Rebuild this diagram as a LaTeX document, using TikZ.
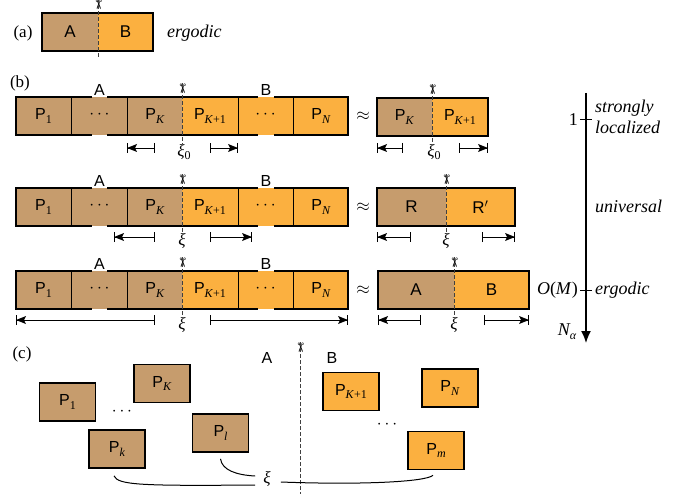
\documentclass[tikz,border=0pt]{standalone}
\usepackage{fontspec}
\setmainfont{Liberation Serif}
\newfontfamily\sansf{Liberation Sans}
\newfontfamily\symf{DejaVu Sans}
\usetikzlibrary{arrows.meta,calc}
\definecolor{tanc}{HTML}{C69C6D}
\definecolor{orng}{HTML}{FBB040}
\newcommand\psub[1]{\raisebox{-0.45ex}{\rmfamily\fontsize{12}{12}\selectfont #1}}
% measurement arrows: \measL{x1}{x2}{y} arrowhead at x1; \measR arrowhead at x2
\newcommand\measL[3]{%
  \draw[meas,{Bar[width=10pt]}-{Bar[width=10pt]}] (#1,#3) -- (#2,#3);
  \fill (#1,#3) -- (#1+10,#3-4) -- (#1+8,#3) -- (#1+10,#3+4) -- cycle;}
\newcommand\measR[3]{%
  \draw[meas,{Bar[width=10pt]}-{Bar[width=10pt]}] (#1,#3) -- (#2,#3);
  \fill (#2,#3) -- (#2-10,#3-4) -- (#2-8,#3) -- (#2-10,#3+4) -- cycle;}
\begin{document}
\begin{tikzpicture}[x=1pt,y=-1pt,
  lab/.style={font=\sansf\fontsize{16}{16}\selectfont, inner sep=0},
  big/.style={font=\sansf\fontsize{17}{17}\selectfont, inner sep=0},
  scis/.style={font=\symf\fontsize{13}{13}\selectfont, rotate=-90, inner sep=0},
  cut/.style={line width=0.8pt, dash pattern=on 3.5pt off 2.5pt, black!75},
  boxline/.style={line width=1.7pt},
  thin/.style={line width=0.7pt},
  meas/.style={line width=0.9pt},
  xil/.style={font=\itshape\fontsize{17}{17}\selectfont, inner sep=0},
  txt/.style={font=\itshape\fontsize{18}{21}\selectfont, inner sep=0},
  pbox/.style={draw, line width=1.7pt, minimum width=56pt, minimum height=38pt, inner sep=0, font=\sansf\fontsize{16}{16}\selectfont},
  tb/.style={pbox, fill=tanc},
  ob/.style={pbox, fill=orng}]
\useasboundingbox (0,0) rectangle (695,494);

% ---------- (a)
\node[font=\fontsize{17}{17}\selectfont] (la) at (23,33) {(a)};
\fill[tanc] (42,13) rectangle (98,51);
\fill[orng] (98,13) rectangle (153,51);
\draw[boxline] (42,13) rectangle (153,51);
\node[big] (aA) at (70,32) {A};
\node[big] (aB) at (125.5,32) {B};
\node[scis] (sa) at (98,5) {✂};
\draw[cut] (sa.west) -- (98,58);
\node[txt, anchor=west] (erga) at (167,33) {ergodic};

% ---------- (b)
\node[font=\fontsize{17}{17}\selectfont] (lb) at (20,83) {(b)};
\foreach \r/\t in {1/97,2/188,3/271}{
  \fill[tanc] (16,\t) rectangle (182,\t+38);
  \fill[orng] (182,\t) rectangle (348,\t+38);
  \foreach \x in {71,127,238,293} \draw[thin] (\x,\t) -- (\x,\t+38);
  \draw[boxline] (92,\t) -- (16,\t) -- (16,\t+38) -- (92,\t+38);
  \draw[boxline] (107,\t) -- (258,\t);
  \draw[boxline] (107,\t+38) -- (258,\t+38);
  \draw[boxline] (274,\t) -- (348,\t) -- (348,\t+38) -- (274,\t+38);
  \node[lab] (p1-\r) at (43.5,\t+19) {P\psub{1}};
  \node[lab] (d1-\r) at (99.5,\t+18) {$\cdots$};
  \node[lab] (pK-\r) at (155,\t+19) {P\psub{\textit{K}}};
  \node[lab] (pK1-\r) at (210,\t+19) {P\psub{\textit{K}+1}};
  \node[lab] (d2-\r) at (265.5,\t+18) {$\cdots$};
  \node[lab] (pN-\r) at (321,\t+19) {P\psub{\textit{N}}};
  \node[lab] (A-\r) at (99.5,\t-7.5) {A};
  \node[lab] (B-\r) at (266,\t-7.5) {B};
  \node[scis] (s-\r) at (182,\t-8) {✂};
  \node[font=\fontsize{16}{16}\selectfont] (ap-\r) at (363,\t+19) {$\approx$};
}
% cut lines and xi labels
\node[xil] (xi-1) at (184,152) {ξ\psub{\upshape 0}};
\node[xil] (xi-2) at (182,241) {ξ};
\node[xil] (xi-3) at (182,325) {ξ};
\draw[cut] (s-1.west) -- (182,144);
\draw[cut] (s-2.west) -- (xi-2.north);
\draw[cut] (s-3.west) -- (xi-3.north);

% measurement arrows, left parts
\measL{127}{155}{148}
\measR{210}{238}{148}
\measL{114}{155}{237}
\measR{210}{252}{237}
\measL{16}{155}{320}
\measR{210}{348}{320}

% right boxes
% row 1
\fill[tanc] (377,98) rectangle (432,136);
\fill[orng] (432,98) rectangle (488,136);
\draw[boxline] (377,98) rectangle (488,136);
\node[lab] (rK) at (404.5,117) {P\psub{\textit{K}}};
\node[lab] (rK1) at (460,117) {P\psub{\textit{K}+1}};
\node[scis] (rs-1) at (432,90) {✂};
\node[xil] (rxi-1) at (434,152) {ξ\psub{\upshape 0}};
\draw[cut] (rs-1.west) -- (432,144);
\measL{377}{403}{148}
\measR{459}{488}{148}
% row 2
\fill[tanc] (377,188) rectangle (446,226);
\fill[orng] (446,188) rectangle (515,226);
\draw[boxline] (377,188) rectangle (515,226);
\node[big] (rR) at (411.5,207) {R};
\node[big] (rR1) at (480.5,207) {R$'$};
\node[scis] (rs-2) at (446,180) {✂};
\node[xil] (rxi-2) at (446,241) {ξ};
\draw[cut] (rs-2.west) -- (rxi-2.north);
\measL{377}{411}{237}
\measR{482}{515}{237}
% row 3
\fill[tanc] (378,271) rectangle (454,309);
\fill[orng] (454,271) rectangle (529,309);
\draw[boxline] (378,271) rectangle (529,309);
\node[big] (rA) at (416,290) {A};
\node[big] (rB) at (491.5,290) {B};
\node[scis] (rs-3) at (454,263) {✂};
\node[xil] (rxi-3) at (454,325) {ξ};
\draw[cut] (rs-3.west) -- (rxi-3.north);
\measL{378}{421}{320}
\measR{484}{529}{320}

% axis
\coordinate (ax0) at (586,93);
\coordinate (ax1) at (586,343);
\draw[line width=1.5pt, -{Latex[length=12pt,width=10pt]}] (ax0) -- (ax1);
\draw[line width=1pt] (580,120) -- (592,120);
\draw[line width=1pt] (580,290) -- (592,290);
\node[font=\fontsize{18}{18}\selectfont, anchor=east, inner sep=0] (one) at (578,120) {1};
\node[font=\fontsize{18}{18}\selectfont, anchor=east, inner sep=0] (om) at (578,290) {\textit{O}(\textit{M})};
\node[txt, anchor=west, align=left] (sl) at (595,117) {strongly\\localized};
\node[txt, anchor=west] (un) at (595,206) {universal};
\node[txt, anchor=west] (er) at (595,290) {ergodic};
\node[font=\itshape\fontsize{18}{18}\selectfont, inner sep=0] (na) at (567,332) {N\psub{α}};

% ---------- (c)
\node[font=\fontsize{17}{17}\selectfont] (lc) at (22,354) {(c)};
\node[tb] (c1) at (67.5,402) {P\psub{1}};
\node[tb] (cK) at (162,383.5) {P\psub{\textit{K}}};
\node[tb] (ck) at (117,449) {P\psub{\textit{k}}};
\node[tb] (cl) at (220.5,433) {P\psub{\textit{l}}};
\node[ob] (cK1) at (351,391.5) {P\psub{\textit{K}+1}};
\node[ob] (cN) at (450,388) {P\psub{\textit{N}}};
\node[ob] (cm) at (436,450.5) {P\psub{\textit{m}}};
\node[lab] (cd1) at (122,412) {$\cdots$};
\node[lab] (cd2) at (387,425) {$\cdots$};
\node[lab] (cA) at (267,358) {A};
\node[lab] (cB) at (332,358) {B};
\node[scis] (cs) at (300,348) {✂};
\draw[cut] (cs.west) -- (300,494);
\node[xil] (cxi) at (267,479) {ξ};
\draw[line width=1pt] ($(ck.south)+(-3,7)$) .. controls (118,485) and (140,486) .. ($(cxi.west)+(-8,6)$);
\draw[line width=1pt] ($(cl.south)+(0,6)$) .. controls (222,470) and (236,475) .. ($(cxi.west)+(-8,-3)$);
\draw[line width=1pt] ($(cxi.east)+(10,3)$) .. controls (360,485) and (425,482) .. ($(cm.south)+(-3,5)$);
\end{tikzpicture}
\end{document}
